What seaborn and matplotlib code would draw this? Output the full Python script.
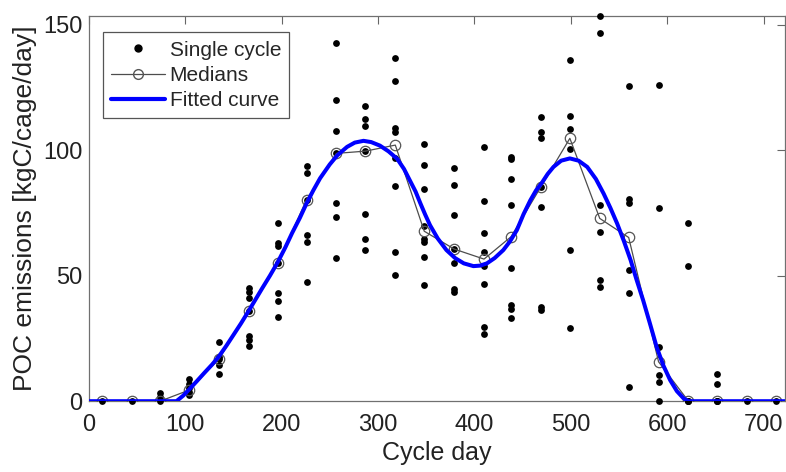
import numpy as np
import pandas as pd
import matplotlib
matplotlib.use("Agg")
import matplotlib.pyplot as plt
import seaborn as sns
from matplotlib.lines import Line2D

# ---------------- data ----------------
days = [14, 45, 74, 104, 135, 166, 196, 226, 257, 287, 318, 348,
        379, 410, 438, 469, 499, 530, 560, 591, 622, 652, 683, 713]

single_cycle = [
    [0],
    [0],
    [0, 1.7, 3.1],
    [8.8, 7.0, 5.1, 3.5, 2.4],
    [23.6, 17.7, 16.7, 14.3, 11.0],
    [45.1, 43.3, 41.3, 36.0, 25.9, 24.3, 21.9],
    [71.0, 63.1, 62.0, 54.9, 43.1, 40.0, 33.6],
    [93.8, 91.0, 80.3, 66.1, 63.5, 47.3],
    [142.8, 119.9, 107.6, 98.7, 79.0, 73.4, 57.2],
    [117.5, 112.4, 109.7, 99.6, 74.7, 64.5, 60.4],
    [136.8, 127.5, 108.9, 107.3, 96.7, 85.7, 59.5, 50.2],
    [102.3, 94.0, 84.5, 69.8, 64.8, 63.5, 57.5, 46.2],
    [92.9, 86.3, 74.1, 60.6, 54.9, 44.6, 43.3],
    [101.2, 79.8, 67.1, 59.5, 53.9, 46.7, 29.6, 26.7],
    [97.3, 96.3, 88.3, 78.1, 52.9, 38.5, 36.9, 33.2],
    [113.0, 107.3, 105.0, 85.4, 77.2, 37.6, 36.3],
    [135.7, 113.5, 108.4, 100.4, 60.2, 29.0],
    [153.4, 146.5, 78.1, 67.5, 48.2, 45.3],
    [125.5, 80.7, 79.0, 52.2, 43.1, 5.7],
    [125.9, 77.0, 21.6, 10.4, 7.7, 0],
    [70.8, 53.8, 0, 0, 0],
    [11.0, 6.8, 0, 0, 0],
    [0],
    [0],
]

medians = [0, 0, 0, 4.4, 16.7, 36.0, 54.9, 80.3, 98.7, 99.6, 102.0, 67.7,
           60.6, 56.6, 65.5, 85.4, 104.7, 72.8, 65.2, 15.7, 0, 0, 0, 0]

fit_days = [0, 91, 98, 104, 112, 120, 128, 135, 143, 150, 158, 166, 173,
            180, 188, 196, 204, 211, 219, 226, 233, 240, 250, 258, 268,
            276, 285, 293, 302, 311, 320, 327, 333, 339, 344, 349, 354,
            362, 371, 380, 389, 399, 406, 413, 421, 430, 437, 444, 451,
            458, 464, 470, 476, 482, 490, 499, 508, 517, 526, 534, 541,
            548, 555, 562, 568, 575, 582, 589, 596, 603, 610, 617, 622, 722]
fit_vals = [0, 0, 2.2, 4.6, 7.9, 11.3, 14.6, 17.8, 22.2, 26.3, 31.0, 36.0,
            40.5, 45.0, 50.0, 55.3, 61.3, 67.0, 73.0, 78.8, 84.0, 88.8,
            94.3, 98.0, 101.3, 103.0, 103.7, 103.2, 101.8, 99.5, 96.5, 92.5,
            88.0, 83.5, 78.8, 74.3, 70.1, 64.8, 60.2, 57.0, 54.9, 53.8, 54.0,
            54.9, 57.0, 60.2, 63.7, 68.1, 74.5, 80.0, 84.0, 87.0, 90.5, 93.3,
            95.8, 96.7, 95.8, 93.3, 88.5, 82.7, 77.0, 70.8, 63.8, 56.2, 48.6,
            40.2, 31.0, 21.6, 14.2, 8.4, 4.0, 1.1, 0, 0]

x_ticks = [0, 100, 200, 300, 400, 500, 600, 700]
y_ticks = [0, 50, 100, 150]

# ---------------- tables ----------------
sc_x, sc_y = [], []
for d, vals in zip(days, single_cycle):
    for v in vals:
        sc_x.append(d)
        sc_y.append(v)
df_sc = pd.DataFrame({"day": sc_x, "poc": sc_y})
df_med = pd.DataFrame({"day": days, "poc": medians})
df_fit = pd.DataFrame({"day": fit_days, "poc": fit_vals})

# ---------------- style ----------------
sns.set_style("white")
plt.rcParams["font.family"] = ["Liberation Sans", "DejaVu Sans"]
txt = "#222222"

fig = plt.figure(figsize=(7.86, 4.72), dpi=100)
ax = fig.add_axes([0.1128, 0.150, 0.8858, 0.816])

sns.scatterplot(data=df_sc, x="day", y="poc", ax=ax, color="black",
                s=24, edgecolor="black", linewidth=0, zorder=3, legend=False,
                clip_on=False)
sns.lineplot(data=df_med, x="day", y="poc", ax=ax, color="#4d4d4d",
             linewidth=0.9, marker="o", markersize=7.5, markerfacecolor="none",
             markeredgecolor="#555555", markeredgewidth=0.9, zorder=4,
             estimator=None, sort=False)
sns.lineplot(data=df_fit, x="day", y="poc", ax=ax, color="#0000ff",
             linewidth=2.9, zorder=5, estimator=None, sort=False)

ax.set_xlim(0, 722)
ax.set_ylim(0, 153.4)
ax.set_xticks(x_ticks)
ax.set_yticks(y_ticks)
ax.tick_params(direction="in", length=5.5, width=0.8, color="#666666",
               top=True, right=True, labelsize=17, labelcolor=txt)
ax.tick_params(axis="x", pad=9)
ax.tick_params(axis="y", pad=4.5)
for s in ax.spines.values():
    s.set_color("#707070")
    s.set_linewidth(0.9)

ax.set_xlabel("Cycle day", fontsize=18, color=txt, labelpad=4)
ax.set_ylabel("POC emissions [kgC/cage/day]", fontsize=19, color=txt,
              labelpad=4)

handles = [
    Line2D([], [], color="black", marker="o", linestyle="none", markersize=5),
    Line2D([], [], color="#4d4d4d", linewidth=0.9, marker="o", markersize=7,
           markerfacecolor="none", markeredgecolor="#555555"),
    Line2D([], [], color="#0000ff", linewidth=3),
]
leg = ax.legend(handles, ["Single cycle", "Medians", "Fitted curve"],
                loc="upper left", bbox_to_anchor=(0.0205, 0.958),
                fontsize=15, frameon=True, fancybox=False, handlelength=2.6,
                handletextpad=0.2, borderpad=0.4, labelspacing=0.3,
                borderaxespad=0, framealpha=1)
leg.get_frame().set_edgecolor("#555555")
leg.get_frame().set_linewidth(0.9)

fig.savefig("out.png", dpi=100)
